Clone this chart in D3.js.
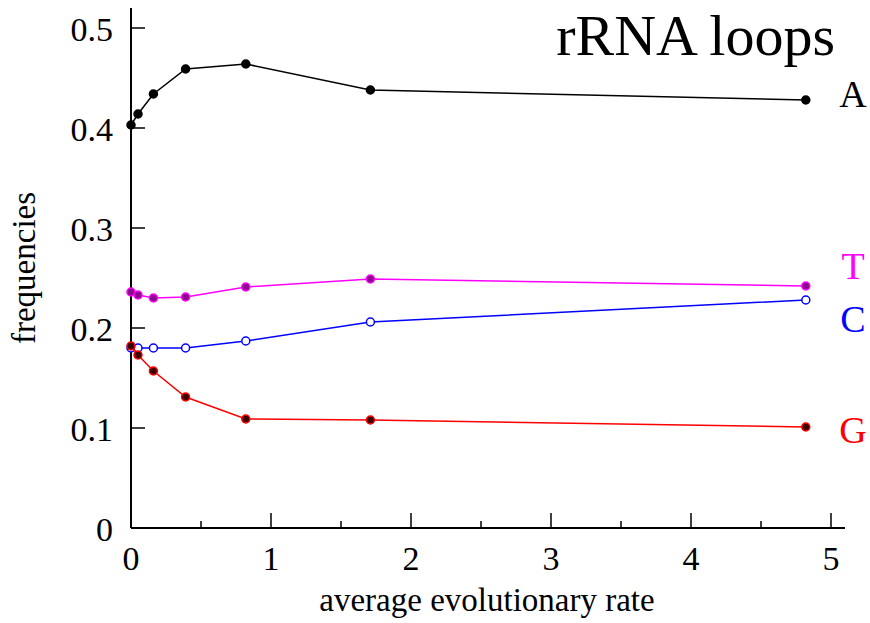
<!DOCTYPE html>
<html>
<head>
<meta charset="utf-8">
<script src="https://cdn.jsdelivr.net/npm/d3@7"></script>
<style>
  body { margin: 0; background: #fff; }
  text { font-family: "Liberation Serif", "DejaVu Serif", serif; }
</style>
</head>
<body>
<div id="chart"></div>
<script>
// rates (x) shared by all series
const rates = [0.0, 0.05, 0.16, 0.39, 0.82, 1.71, 4.82];
const freqA = [0.403, 0.414, 0.434, 0.459, 0.464, 0.438, 0.428];
const freqT = [0.236, 0.233, 0.230, 0.231, 0.241, 0.249, 0.242];
const freqC = [0.180, 0.180, 0.180, 0.180, 0.187, 0.206, 0.228];
const freqG = [0.182, 0.173, 0.157, 0.131, 0.109, 0.108, 0.101];
const xTicks = [0, 1, 2, 3, 4, 5];
const xMinor = [0.5, 1.5, 2.5, 3.5, 4.5];
const yTicks = [0, 0.1, 0.2, 0.3, 0.4, 0.5];

const W = 870, H = 623;
const svg = d3.select("#chart").append("svg")
    .attr("width", W)
    .attr("height", H);

const x = d3.scaleLinear().domain([0, 5]).range([131, 831]);
const y = d3.scaleLinear().domain([0, 0.5]).range([528, 28]);

// axes frame: left and bottom lines only
svg.append("line")
    .attr("x1", x(0)).attr("x2", x(0))
    .attr("y1", y(0)).attr("y2", y(0.52))
    .attr("stroke", "#000").attr("stroke-width", 2);
svg.append("line")
    .attr("x1", x(0)).attr("x2", x(5.1))
    .attr("y1", y(0)).attr("y2", y(0))
    .attr("stroke", "#000").attr("stroke-width", 2);

// y ticks (inward)
svg.selectAll(".ytick").data(yTicks).join("line")
    .attr("x1", x(0)).attr("x2", x(0) + 14)
    .attr("y1", d => y(d)).attr("y2", d => y(d))
    .attr("stroke", "#000").attr("stroke-width", 1.5);
svg.selectAll(".ylab").data(yTicks).join("text")
    .attr("x", 113)
    .attr("y", d => y(d) + 13)
    .attr("text-anchor", "end")
    .style("font-size", "34px")
    .text(d => d === 0 ? "0" : d3.format(".1f")(d));

// x ticks (inward), with minor ones
svg.selectAll(".xtick").data(xTicks).join("line")
    .attr("x1", d => x(d)).attr("x2", d => x(d))
    .attr("y1", y(0)).attr("y2", y(0) - 15)
    .attr("stroke", "#000").attr("stroke-width", 1.5);
svg.selectAll(".xminor").data(xMinor).join("line")
    .attr("x1", d => x(d)).attr("x2", d => x(d))
    .attr("y1", y(0)).attr("y2", y(0) - 7)
    .attr("stroke", "#000").attr("stroke-width", 1.5);
svg.selectAll(".xlab").data(xTicks).join("text")
    .attr("x", d => x(d))
    .attr("y", 570)
    .attr("text-anchor", "middle")
    .style("font-size", "34px")
    .text(d => d);

// axis titles
svg.append("text")
    .attr("x", 487).attr("y", 611)
    .attr("text-anchor", "middle")
    .style("font-size", "33px")
    .text("average evolutionary rate");
svg.append("text")
    .attr("transform", "translate(35,268) rotate(-90)")
    .attr("text-anchor", "middle")
    .style("font-size", "33px")
    .text("frequencies");

// title
svg.append("text")
    .attr("x", 835).attr("y", 55)
    .attr("text-anchor", "end")
    .style("font-size", "58px")
    .text("rRNA loops");

const series = [
    { name: "A", values: freqA, line: "#000000", fill: "#000000", stroke: "#000000", labelY: 107 },
    { name: "T", values: freqT, line: "#ff00ff", fill: "#8b0a8b", stroke: "#ff00ff", labelY: 279 },
    { name: "C", values: freqC, line: "#0000ff", fill: "#ffffff", stroke: "#0000ff", labelY: 332 },
    { name: "G", values: freqG, line: "#ff0000", fill: "#3a0000", stroke: "#ff0000", labelY: 443 }
];

const lineGen = d3.line()
    .x((d, i) => x(rates[i]))
    .y(d => y(d));

series.forEach(s => {
    svg.append("path")
        .datum(s.values)
        .attr("d", lineGen)
        .attr("fill", "none")
        .attr("stroke", s.line)
        .attr("stroke-width", 1.5);

    svg.selectAll(".pt-" + s.name).data(s.values).join("circle")
        .attr("cx", (d, i) => x(rates[i]))
        .attr("cy", d => y(d))
        .attr("r", 4)
        .attr("fill", s.fill)
        .attr("stroke", s.stroke)
        .attr("stroke-width", 1.5);

    svg.append("text")
        .attr("x", 853).attr("y", s.labelY)
        .attr("text-anchor", "middle")
        .attr("fill", s.line)
        .style("font-size", "38px")
        .text(s.name);
});
</script>
</body>
</html>
